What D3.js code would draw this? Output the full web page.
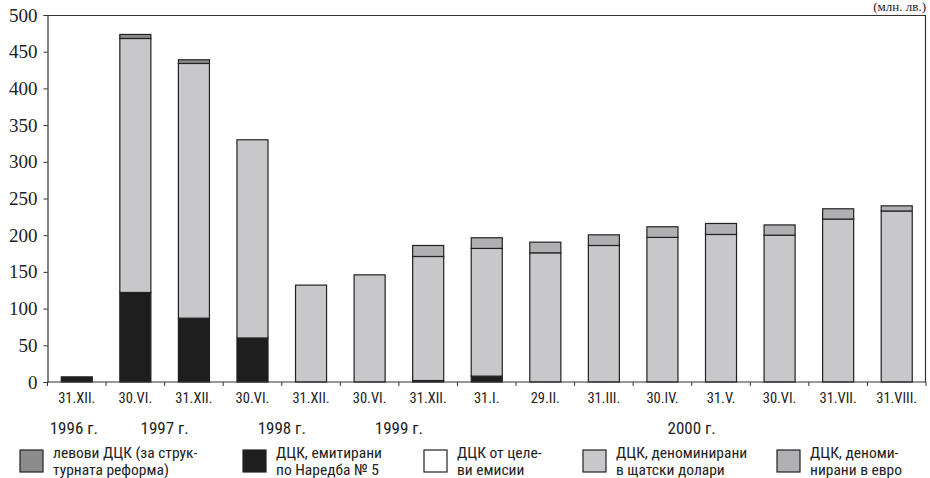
<!DOCTYPE html>
<html>
<head>
<meta charset="utf-8">
<script src="https://cdn.jsdelivr.net/npm/d3@7"></script>
<style>
  body { margin: 0; background: #fff; }
  svg { display: block; }
</style>
</head>
<body>
<div id="chart"></div>
<script>
// Categories (dates) and year labels
const categories = ['31.XII.', '30.VI.', '31.XII.', '30.VI.', '31.XII.', '30.VI.', '31.XII.',
  '31.I.', '29.II.', '31.III.', '30.IV.', '31.V.', '30.VI.', '31.VII.', '31.VIII.'];
const years = ['1996 г.', '1997 г.', '1998 г.', '1999 г.', '2000 г.'];
// position of each year label, as a band index (fraction = between bands)
const yearPos = [0.45, 2, 4, 6, 11];

// Series values (млн. лв.)
const naredba5 = [7, 122, 87, 60, 0, 0, 2, 8, 0, 0, 0, 0, 0, 0, 0];
const targeted = [0, 0, 0, 0, 0, 0, 0, 0, 0, 0, 0, 0, 0, 0, 0];
const usd = [0, 346, 347, 270, 132, 146, 169, 174, 176, 186, 197, 201, 200, 222, 233];
const levovi = [0, 5.5, 5, 0, 0, 0, 0, 0, 0, 0, 0, 0, 0, 0, 0];
const euro = [0, 0, 0, 0, 0, 0, 15, 14.5, 14.5, 14.5, 14.5, 15, 14, 14, 7];
const yTicks = [0, 50, 100, 150, 200, 250, 300, 350, 400, 450, 500];

// legend texts, two lines per item
const legendLines = [
  ['левови ДЦК (за струк-', 'турната реформа)'],
  ['ДЦК, емитирани', 'по Наредба № 5'],
  ['ДЦК от целе-', 'ви емисии'],
  ['ДЦК, деноминирани', 'в щатски долари'],
  ['ДЦК, деноми-', 'нирани в евро']
];

const width = 930, height = 478;
const margin = { top: 15, right: 4, bottom: 96, left: 47.5 };
const innerW = width - margin.left - margin.right;
const innerH = height - margin.top - margin.bottom;

const svg = d3.select('#chart').append('svg')
  .attr('width', width).attr('height', height);

const g = svg.append('g').attr('transform', `translate(${margin.left},${margin.top})`);

const x = d3.scaleBand().domain(d3.range(categories.length)).range([0, innerW]).paddingInner(0.47).paddingOuter(0.235);
const y = d3.scaleLinear().domain([0, 500]).range([innerH, 0]);

// stacking order bottom -> top
const rows = categories.map((c, i) => ({
  i, naredba5: naredba5[i], targeted: targeted[i], usd: usd[i], euro: euro[i], levovi: levovi[i]
}));
const keys = ['naredba5', 'targeted', 'usd', 'euro', 'levovi'];
const colors = { levovi: '#8c8c8c', naredba5: '#1e1e1e', targeted: '#ffffff', usd: '#c8c8ca', euro: '#b0b0b2' };
const stack = d3.stack().keys(keys)(rows);

// frame: top and right lines
g.append('line').attr('x1', 0).attr('x2', innerW).attr('y1', 0.5).attr('y2', 0.5)
  .attr('stroke', '#333').attr('stroke-width', 1.2);
g.append('line').attr('x1', innerW - 0.5).attr('x2', innerW - 0.5).attr('y1', 0).attr('y2', innerH)
  .attr('stroke', '#333').attr('stroke-width', 1.2);

stack.forEach(layer => {
  g.append('g').selectAll('rect').data(layer.filter(d => d[1] - d[0] > 0)).join('rect')
    .attr('x', d => x(d.data.i))
    .attr('width', x.bandwidth())
    .attr('y', d => y(d[1]))
    .attr('height', d => y(d[0]) - y(d[1]))
    .attr('fill', colors[layer.key])
    .attr('stroke', '#222')
    .attr('stroke-width', 1.2);
});

// y axis
const yAxis = g.append('g').call(d3.axisLeft(y).tickValues(yTicks).tickSize(4).tickPadding(6));
yAxis.attr('font-family', null).attr('font-size', null);
yAxis.select('.domain').attr('stroke', '#333').attr('stroke-width', 1.2);
yAxis.selectAll('line').attr('stroke', '#333');
yAxis.selectAll('text')
  .style('font-family', '"Liberation Serif", "DejaVu Serif", serif')
  .style('font-size', '19px').attr('fill', '#222');

// x axis: ticks at band boundaries
const xAxis = g.append('g').attr('transform', `translate(0,${innerH})`);
xAxis.append('line').attr('x1', 0).attr('x2', innerW).attr('stroke', '#333').attr('stroke-width', 1.2);
const step = x.step();
xAxis.selectAll('.tk').data(d3.range(categories.length + 1)).join('line')
  .attr('x1', d => d * step).attr('x2', d => d * step).attr('y1', 0).attr('y2', 4)
  .attr('stroke', '#333');

const condensed = '"Liberation Sans Narrow", "Roboto Condensed", "DejaVu Sans Condensed", "Liberation Sans", sans-serif';
xAxis.selectAll('.lbl').data(categories).join('text')
  .attr('x', (d, i) => x(i) + x.bandwidth() / 2)
  .attr('y', 21)
  .attr('text-anchor', 'middle')
  .style('font-family', condensed)
  .style('font-size', '14.5px')
  .attr('fill', '#222')
  .text(d => d);

xAxis.selectAll('.yr').data(years).join('text')
  .attr('x', (d, i) => yearPos[i] * step)
  .attr('y', 52)
  .attr('text-anchor', 'middle')
  .style('font-family', condensed)
  .style('font-size', '17px')
  .attr('fill', '#222')
  .text(d => d);

// unit label
svg.append('text').attr('x', width - 4).attr('y', 11).attr('text-anchor', 'end')
  .style('font-family', '"Liberation Serif", serif').style('font-size', '13px').attr('fill', '#222')
  .text('(млн. лв.)');

// legend
const legendX = [20, 243, 424, 583, 777];
const legendColors = [colors.levovi, colors.naredba5, colors.targeted, colors.usd, colors.euro];
const legend = svg.append('g').selectAll('g').data(legendLines).join('g')
  .attr('transform', (d, i) => `translate(${legendX[i]},450)`);
legend.append('rect').attr('width', 23).attr('height', 22)
  .attr('fill', (d, i) => legendColors[i]).attr('stroke', '#222').attr('stroke-width', 1.2);
legend.append('text')
  .style('font-family', condensed).style('font-size', '15.5px').attr('fill', '#222')
  .selectAll('tspan').data(d => d).join('tspan')
  .attr('x', 33).attr('y', (d, j) => 8 + j * 17)
  .text(d => d);
</script>
</body>
</html>
